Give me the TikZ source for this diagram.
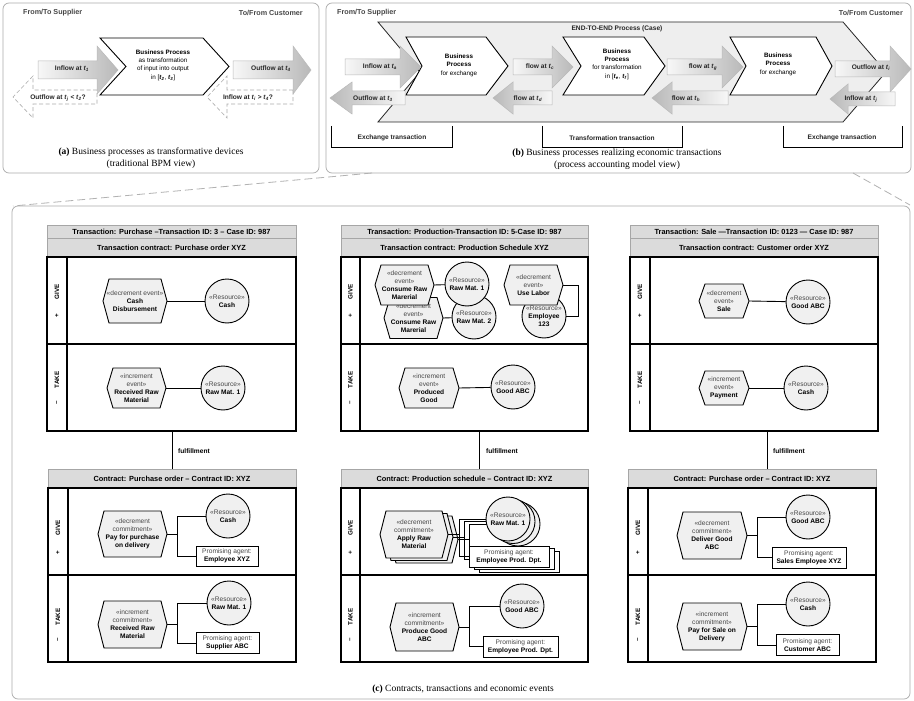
\documentclass[tikz,border=0pt]{standalone}
\usepackage{fontspec}
\setmainfont{Liberation Sans}
\newfontfamily\capfont{Liberation Serif}
\usetikzlibrary{calc}
\newcommand\fsz[2]{\fontsize{#1}{#2}\selectfont}
\newcommand\stereo[1]{{\color{black!72}#1}}
\newcommand\nmb[1]{\textbf{#1}}
\newcommand\tv[1]{\textbf{\textit{t}}\textsubscript{\textbf{\textit{#1}}}}
\newcommand\flowarrow[7]{\path[#7] (#1,{#4-#5}) -- (#2,{#4-#5}) -- (#2,{#4-#6}) -- (#3,#4) -- (#2,{#4+#6}) -- (#2,{#4+#5}) -- (#1,{#4+#5}) -- cycle;}
\newcommand\chevron[7]{\path[#7] (#1,#5) -- (#3,#5) -- (#4,{(#5+#6)/2}) -- (#3,#6) -- (#1,#6) -- (#2,{(#5+#6)/2}) -- cycle;}
\newcommand\hexnode[6]{%
 \path[hexsty] ({#2-#4/2},#3) -- ({#2-#4/2+6},{#3-#5/2}) -- ({#2+#4/2-6},{#3-#5/2}) -- ({#2+#4/2},#3) -- ({#2+#4/2-6},{#3+#5/2}) -- ({#2-#4/2+6},{#3+#5/2}) -- cycle;
 \node[hexlbl, minimum width=#4pt, minimum height=#5pt] (#1) at (#2,#3) {#6};}
\newcommand\stk[1]{\ifnum\k=0 #1\fi}
\begin{document}
\begin{tikzpicture}[x=1pt,y=-1pt,
  panel/.style={draw=gray!65, line width=0.7pt, rounded corners=6pt},
  chev/.style={draw=black, fill=white, line width=0.9pt},
  bigchev/.style={draw=black!85, fill=gray!13, line width=0.8pt},
  arrR/.style={draw=gray!55, line width=0.5pt, left color=gray!6, right color=gray!55},
  arrL/.style={draw=gray!55, line width=0.5pt, left color=gray!55, right color=gray!6},
  arrD/.style={draw=gray!65, dash pattern=on 4pt off 2.5pt, line width=0.6pt, fill=white},
  sup/.style={font=\fsz{7.2}{8}\bfseries, text=black!72, inner sep=0pt},
  ptxt/.style={font=\fsz{6.3}{8.4}, align=center, inner sep=0pt},
  alab/.style={font=\fsz{6.6}{8}\bfseries, text=black!85, inner sep=0pt},
  brk/.style={draw=black, line width=0.8pt},
  capt/.style={font=\capfont\fsz{9.5}{11}, inner sep=0pt},
  zoomln/.style={draw=gray!60, line width=0.8pt, dash pattern=on 8pt off 4pt},
  hdr/.style={rectangle, draw=gray!70, fill=gray!28, line width=0.9pt, inner sep=0pt, font=\fsz{7.4}{9}\bfseries},
  lane/.style={draw=black, line width=1.1pt},
  lanelbl/.style={font=\fsz{6.3}{7}\bfseries, inner sep=0pt, rotate=90},
  hexsty/.style={draw=black, fill=gray!12, line width=0.9pt},
  hexlbl/.style={align=center, inner sep=0pt, font=\fsz{6.6}{8}},
  res/.style={circle, draw=black, fill=gray!12, line width=0.9pt, minimum size=44pt, inner sep=0pt, align=center, font=\fsz{6.6}{8}},
  agent/.style={rectangle, draw=black, fill=white, line width=0.9pt, inner sep=0pt, align=center, font=\fsz{6.6}{8}},
  conn/.style={draw=black, line width=0.9pt},
  flab/.style={font=\fsz{6.6}{8}\bfseries, inner sep=0pt, anchor=west}]
\useasboundingbox (0,0) rectangle (914,701);
\fill[white] (0,0) rectangle (914,701);

% ---------------- panel (a)
\draw[panel] (3,3) rectangle (319,173);
\node[sup, anchor=west] (asup) at (23,13) {From/To Supplier};
\node[sup, anchor=east] (acus) at (303,13) {To/From Customer};
\chevron{100}{126}{203}{229}{38}{95}{chev}
\node[ptxt] (abp) at (163,65) {\textbf{Business Process}\\as transformation\\of input into output\\in [\tv{2}, \tv{3}]};
\flowarrow{38}{97}{118}{70}{9}{24}{arrR}
\flowarrow{233}{293}{311}{70}{9}{24}{arrR}
\flowarrow{97}{33}{13}{97}{7}{21}{arrD}
\flowarrow{293}{227}{207}{97}{7}{21}{arrD}
\node[alab] (ain) at (72,69) {Inflow at \tv{1}};
\node[alab] (aout) at (271,69) {Outflow at \tv{4}};
\node[alab] (aoutq) at (58,98) {Outflow at \tv{j} < \tv{2}?};
\node[alab] (ainq) at (248,98) {Inflow at \tv{i} > \tv{4}?};
\node[capt] (acap) at (151,152) {\textbf{(a)} Business processes as transformative devices};
\node[capt] (acap2) at (151,164) {(traditional BPM view)};

% ---------------- panel (b)
\draw[panel] (326,3) rectangle (911,173);
\node[sup, anchor=west] (bsup) at (337,13) {From/To Supplier};
\node[sup, anchor=east] (bcus) at (903,13) {To/From Customer};
\chevron{378}{420}{843}{886}{22}{122}{bigchev}
\node[alab] (e2e) at (617,29) {END-TO-END Process (Case)};
\chevron{406}{422}{486}{508}{37}{95}{chev}
\chevron{563}{581}{644}{665}{37}{95}{chev}
\chevron{730}{746}{816}{832}{37}{95}{chev}
\node[ptxt] (bp1) at (459,65) {\textbf{Business}\\\textbf{Process}\\for exchange};
\node[ptxt] (bp2) at (617,64) {\textbf{Business}\\\textbf{Process}\\for transformation\\in [\tv{e}, \tv{f}]};
\node[ptxt] (bp3) at (778,64) {\textbf{Business}\\\textbf{Process}\\for exchange};
\flowarrow{345}{400}{421}{67}{8}{21}{arrR}
\flowarrow{405}{352}{330}{98}{7}{16}{arrL}
\flowarrow{513}{552}{573}{67}{8}{21}{arrR}
\flowarrow{552}{513}{493}{98}{7}{16}{arrL}
\flowarrow{667}{722}{743}{67}{8}{21}{arrR}
\flowarrow{728}{672}{652}{98}{7}{16}{arrL}
\flowarrow{835}{890}{911}{69}{8}{23}{arrR}
\flowarrow{895}{848}{830}{99}{7}{15}{arrL}
\node[alab] (fa) at (380,67) {Inflow at \tv{a}};
\node[alab] (f3) at (373,99) {Outflow at \tv{3}};
\node[alab] (fc) at (540,67) {flow at \tv{c}};
\node[alab] (fd) at (528,99) {flow at \tv{d}};
\node[alab] (fg) at (703,67) {flow at \tv{g}};
\node[alab] (fh) at (686,99) {flow at \tv{h}};
\node[alab] (fi) at (871,68) {Outflow at \tv{i}};
\node[alab] (fj) at (861,99) {Inflow at \tv{j}};
\draw[brk] (331,126) -- (331,147) -- (452,147) -- (452,126);
\draw[brk] (542,126) -- (542,147) -- (682,147) -- (682,126);
\draw[brk] (783,126) -- (783,147) -- (902,147) -- (902,126);
\node[alab] (bx1) at (392,138) {Exchange transaction};
\node[alab] (bx2) at (612,138) {Transformation transaction};
\node[alab] (bx3) at (842,138) {Exchange transaction};
\node[capt] (bcap) at (617,153) {\textbf{(b)} Business processes realizing economic transactions};
\node[capt] (bcap2) at (617,165) {(process accounting model view)};

% ---------------- zoom lines and panel (c)
\coordinate (zl1) at (372,173); \coordinate (zl2) at (13,206);
\coordinate (zr1) at (853,173); \coordinate (zr2) at (910,205);
\draw[zoomln] (zl1) -- (zl2);
\draw[zoomln] (zr1) -- (zr2);
\draw[panel] (12,206) rectangle (910,699);
\node[capt] (ccap) at (463,689) {\textbf{(c)} Contracts, transactions and economic events};

% ---------------- transaction boxes (top)
\node[hdr, minimum width=249pt, minimum height=13pt] (t1h1) at (171.5,231.5) {Transaction: Purchase --Transaction ID: 3 -- Case ID: 987};
\node[hdr, minimum width=249pt, minimum height=19pt] (t1h2) at (171.5,247.5) {Transaction contract: Purchase order XYZ};
\draw[lane] (47,257) rectangle (296,344); \draw[lane] (47,344) rectangle (296,431); \draw[lane] (67,257) -- (67,431);
\node[hdr, minimum width=247pt, minimum height=13pt] (t2h1) at (464.5,231.5) {Transaction: Production-Transaction ID: 5-Case ID: 987};
\node[hdr, minimum width=247pt, minimum height=19pt] (t2h2) at (464.5,247.5) {Transaction contract: Production Schedule XYZ};
\draw[lane] (341,257) rectangle (588,344); \draw[lane] (341,344) rectangle (588,431); \draw[lane] (360,257) -- (360,431);
\node[hdr, minimum width=248pt, minimum height=13pt] (t3h1) at (754,231.5) {Transaction: Sale ---Transaction ID: 0123 --- Case ID: 987};
\node[hdr, minimum width=248pt, minimum height=19pt] (t3h2) at (754,247.5) {Transaction contract: Customer order XYZ};
\draw[lane] (630,257) rectangle (878,344); \draw[lane] (630,344) rectangle (878,431); \draw[lane] (650,257) -- (650,431);
% lane labels top
\node[lanelbl] (l1g) at (57,292) {GIVE}; \node[lanelbl] (l1gp) at (57,316) {+};
\node[lanelbl] (l1t) at (57,380) {TAKE}; \node[lanelbl] (l1tm) at (57,403) {–};
\node[lanelbl] (l2g) at (350.5,292) {GIVE}; \node[lanelbl] (l2gp) at (350.5,316) {+};
\node[lanelbl] (l2t) at (350.5,380) {TAKE}; \node[lanelbl] (l2tm) at (350.5,403) {–};
\node[lanelbl] (l3g) at (640,292) {GIVE}; \node[lanelbl] (l3gp) at (640,316) {+};
\node[lanelbl] (l3t) at (640,380) {TAKE}; \node[lanelbl] (l3tm) at (640,403) {–};

% col 1 events
\hexnode{e1g}{135}{301}{64}{44}{\stereo{«decrement event»}\\\nmb{Cash}\\\nmb{Disbursement}}
\node[res] (r1g) at (227,301) {\stereo{«Resource»}\\\nmb{Cash}};
\draw[conn] (e1g.east) -- (r1g);
\hexnode{e1t}{136.5}{388}{59}{40}{\stereo{«increment}\\\stereo{event»}\\\nmb{Received Raw}\\\nmb{Material}}
\node[res] (r1t) at (223,388) {\stereo{«Resource»}\\\nmb{Raw Mat. 1}};
\draw[conn] (e1t.east) -- (r1t);

% col 2 events
\node[res] (r2e) at (544,316) {\stereo{«Resource»}\\\nmb{Employee}\\\nmb{123}};
\hexnode{e2b}{413.5}{318}{59}{41}{\stereo{«decrement}\\\stereo{event»}\\\nmb{Consume Raw}\\\nmb{Marerial}}
\node[res] (r2b) at (474,317) {\stereo{«Resource»}\\\nmb{Raw Mat. 2}};
\draw[conn] (e2b.east) -- (r2b);
\hexnode{e2a}{404.5}{285}{59}{40}{\stereo{«decrement}\\\stereo{event»}\\\nmb{Consume Raw}\\\nmb{Marerial}}
\node[res] (r2a) at (467,284) {\stereo{«Resource»}\\\nmb{Raw Mat. 1}};
\draw[conn] (e2a.east) -- (r2a);
\hexnode{e2d}{533.5}{285}{59}{40}{\stereo{«decrement}\\\stereo{event»}\\\nmb{Use Labor}}
\draw[conn] (e2d.east) -- ++(15,0) |- (r2e.east);
\hexnode{e2t}{429}{388}{60}{40}{\stereo{«increment}\\\stereo{event»}\\\nmb{Produced}\\\nmb{Good}}
\node[res] (r2t) at (513,387) {\stereo{«Resource»}\\\nmb{Good ABC}};
\draw[conn] (e2t.east) -- (r2t);

% col 3 events
\hexnode{e3g}{724}{301}{50}{34}{\stereo{«decrement}\\\stereo{event»}\\\nmb{Sale}}
\node[res] (r3g) at (808,302) {\stereo{«Resource»}\\\nmb{Good ABC}};
\draw[conn] (e3g.east) -- (r3g);
\hexnode{e3t}{724}{388}{50}{34}{\stereo{«increment}\\\stereo{event»}\\\nmb{Payment}}
\node[res] (r3t) at (806,388) {\stereo{«Resource»}\\\nmb{Cash}};
\draw[conn] (e3t.east) -- (r3t);

% ---------------- fulfillment
\coordinate (f1a) at (172,431); \coordinate (f2a) at (479,431); \coordinate (f3a) at (767,431);
\coordinate (f1b) at (172,469); \coordinate (f2b) at (479,469); \coordinate (f3b) at (767,469);
\draw[conn] (f1a) -- (f1b); \draw[conn] (f2a) -- (f2b); \draw[conn] (f3a) -- (f3b);
\node[flab] (fl1) at (178,451) {fulfillment};
\node[flab] (fl2) at (486,451) {fulfillment};
\node[flab] (fl3) at (773,451) {fulfillment};

% ---------------- contract boxes (bottom)
\node[hdr, minimum width=248pt, minimum height=19pt] (c1h) at (172,478.5) {Contract: Purchase order -- Contract ID: XYZ};
\draw[lane] (48,488) rectangle (296,575); \draw[lane] (48,575) rectangle (296,662); \draw[lane] (68,488) -- (68,662);
\node[hdr, minimum width=247pt, minimum height=19pt] (c2h) at (464.5,478.5) {Contract: Production schedule -- Contract ID: XYZ};
\draw[lane] (341,488) rectangle (588,575); \draw[lane] (341,575) rectangle (588,662); \draw[lane] (360,488) -- (360,662);
\node[hdr, minimum width=248pt, minimum height=19pt] (c3h) at (752,478.5) {Contract: Purchase order -- Contract ID: XYZ};
\draw[lane] (628,488) rectangle (876,575); \draw[lane] (628,575) rectangle (876,662); \draw[lane] (648,488) -- (648,662);
\node[lanelbl] (m1g) at (58,528) {GIVE}; \node[lanelbl] (m1gp) at (58,553) {+};
\node[lanelbl] (m1t) at (58,617) {TAKE}; \node[lanelbl] (m1tm) at (58,640) {–};
\node[lanelbl] (m2g) at (350.5,528) {GIVE}; \node[lanelbl] (m2gp) at (350.5,553) {+};
\node[lanelbl] (m2t) at (350.5,617) {TAKE}; \node[lanelbl] (m2tm) at (350.5,640) {–};
\node[lanelbl] (m3g) at (638,528) {GIVE}; \node[lanelbl] (m3gp) at (638,553) {+};
\node[lanelbl] (m3t) at (638,617) {TAKE}; \node[lanelbl] (m3tm) at (638,640) {–};

% col 1 commitments
\hexnode{k1g}{132.5}{534}{69}{46}{\stereo{«decrement}\\\stereo{commitment»}\\\nmb{Pay for purchase}\\\nmb{on delivery}}
\node[res] (q1g) at (228,516) {\stereo{«Resource»}\\\nmb{Cash}};
\node[agent, minimum width=62pt, minimum height=20pt] (a1g) at (227,556) {\stereo{Promising agent:}\\\nmb{Employee XYZ}};
\draw[conn] (k1g.east) -- ++(10,0) coordinate (j1g);
\draw[conn] (q1g.west) -| (j1g) |- (a1g.west);
\hexnode{k1t}{132.5}{624.5}{69}{47}{\stereo{«increment}\\\stereo{commitment»}\\\nmb{Received Raw}\\\nmb{Material}}
\node[res] (q1t) at (229,603) {\stereo{«Resource»}\\\nmb{Raw Mat. 1}};
\node[agent, minimum width=63pt, minimum height=21pt] (a1t) at (227.5,643) {\stereo{Promising agent:}\\\nmb{Supplier ABC}};
\draw[conn] (k1t.east) -- ++(10,0) coordinate (j1t);
\draw[conn] (q1t.west) -| (j1t) |- (a1t.west);

% col 2 commitments (stacked)
\foreach \k in {2,1,0}{
 \begin{scope}[shift={(5*\k,2.5*\k)}]
  \hexnode{k2g\k}{414}{534.5}{68}{47}{\stk{\stereo{«decrement}\\\stereo{commitment»}\\\nmb{Apply Raw}\\\nmb{Material}}}
  \node[res] (q2g\k) at (508,519) {\stk{\stereo{«Resource»}\\\nmb{Raw Mat. 1}}};
  \node[agent, minimum width=80pt, minimum height=21pt] (a2g\k) at (509,556.5) {\stk{\stereo{Promising agent:}\\\nmb{Employee Prod. Dpt.}}};
  \draw[conn] (k2g\k.east) -- ++(11,0) coordinate (j2g\k);
  \draw[conn] (q2g\k.west) -| (j2g\k) |- (a2g\k.west);
 \end{scope}
}
\hexnode{k2t}{424.5}{627}{69}{48}{\stereo{«increment}\\\stereo{commitment»}\\\nmb{Produce Good}\\\nmb{ABC}}
\node[res] (q2t) at (522,606) {\stereo{«Resource»}\\\nmb{Good ABC}};
\node[agent, minimum width=75pt, minimum height=21pt] (a2t) at (520.5,646.5) {\stereo{Promising agent:}\\\nmb{Employee Prod. Dpt.}};
\draw[conn] (k2t.east) -- ++(10,0) coordinate (j2t);
\draw[conn] (q2t.west) -| (j2t) |- (a2t.west);

% col 3 commitments
\hexnode{k3g}{712}{535.5}{70}{47}{\stereo{«decrement}\\\stereo{commitment»}\\\nmb{Deliver Good}\\\nmb{ABC}}
\node[res] (q3g) at (808,517) {\stereo{«Resource»}\\\nmb{Good ABC}};
\node[agent, minimum width=74pt, minimum height=21pt] (a3g) at (809,557.5) {\stereo{Promising agent:}\\\nmb{Sales Employee XYZ}};
\draw[conn] (k3g.east) -- ++(10,0) coordinate (j3g);
\draw[conn] (q3g.west) -| (j3g) |- (a3g.west);
\hexnode{k3t}{712}{626.5}{70}{47}{\stereo{«increment}\\\stereo{commitment»}\\\nmb{Pay for Sale on}\\\nmb{Delivery}}
\node[res] (q3t) at (808,604) {\stereo{«Resource»}\\\nmb{Cash}};
\node[agent, minimum width=63pt, minimum height=21pt] (a3t) at (807.5,645) {\stereo{Promising agent:}\\\nmb{Customer ABC}};
\draw[conn] (k3t.east) -- ++(10,0) coordinate (j3t);
\draw[conn] (q3t.west) -| (j3t) |- (a3t.west);
\end{tikzpicture}
\end{document}
